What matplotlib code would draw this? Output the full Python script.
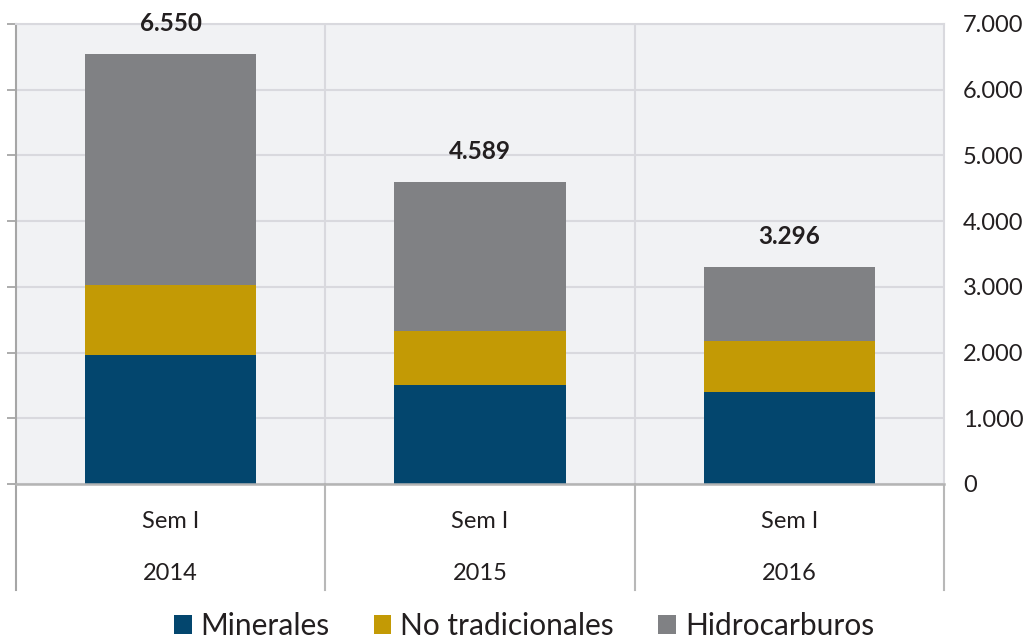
import matplotlib
matplotlib.use("Agg")
import matplotlib.pyplot as plt
from matplotlib.lines import Line2D
from matplotlib.patches import Patch
from matplotlib.ticker import FuncFormatter
import numpy as np

plt.rcParams['font.family'] = ['Lato', 'DejaVu Sans']

periods = ["Sem I", "Sem I", "Sem I"]
years = ["2014", "2015", "2016"]
series_names = ["Minerales", "No tradicionales", "Hidrocarburos"]
minerales = [1960, 1507, 1400]
no_tradicionales = [1070, 821, 776]
hidrocarburos = [3520, 2261, 1120]
totals = [6550, 4589, 3296]
colors = ["#03466e", "#c39a05", "#808184"]

fig = plt.figure(figsize=(10.29, 6.4), dpi=100)
ax = fig.add_axes([16/1029, 1-484/640, (944-16)/1029, 460/640])
ax.set_facecolor("#f1f2f4")

x = np.arange(len(years))
bw = 0.553
bottom = np.zeros(len(years))
for vals, c, name in zip([minerales, no_tradicionales, hidrocarburos], colors, series_names):
    ax.bar(x, vals, bw, bottom=bottom, color=c, label=name, zorder=3)
    bottom += np.array(vals)

def fmt(v):
    return f"{int(v):,}".replace(",", ".")

for xi, t in zip(x, totals):
    ax.annotate(fmt(t), (xi, t), xytext=(0, 22), textcoords="offset points",
                ha="center", va="center", fontsize=17.5, fontweight="bold",
                color="#231f20", zorder=5, annotation_clip=False)

ax.set_xlim(-0.5, len(years) - 0.5)
ax.set_ylim(0, 7000)
ax.set_yticks(np.arange(0, 7001, 1000))
ax.yaxis.set_major_formatter(FuncFormatter(lambda v, p: fmt(v)))
ax.tick_params(axis="y", left=True, right=False, labelleft=False, labelright=True,
               length=6.5, width=1.3, color="#a6a6a6", labelsize=17, pad=7,
               labelcolor="#231f20")
ax.set_xticks([])
ax.grid(axis="y", color="#d9d9de", lw=1.5, zorder=0)
for b in [0.5, 1.5]:
    ax.axvline(b, color="#d9d9de", lw=1.5, zorder=0)

for s in ["top", "right"]:
    ax.spines[s].set_color("#d9d9de")
    ax.spines[s].set_linewidth(1.5)
ax.spines["left"].set_color("#a6a6a6")
ax.spines["left"].set_linewidth(1.5)
ax.spines["bottom"].set_color("#b4b4b4")
ax.spines["bottom"].set_linewidth(1.8)
ax.spines["bottom"].set_zorder(4)

low = -106/460
trans = ax.get_xaxis_transform()
for b in [-0.5, 0.5, 1.5, 2.5]:
    col = "#a6a6a6" if b == -0.5 else "#b8b8b8"
    ax.add_line(Line2D([b, b], [0, low], transform=trans, color=col, lw=1.5, clip_on=False))

for xi, p, yr in zip(x, periods, years):
    ax.text(xi, -37/460, p, transform=trans, ha="center", va="center", fontsize=17, color="#231f20")
    ax.text(xi, -90/460, yr, transform=trans, ha="center", va="center", fontsize=17, color="#231f20")

handles = [Patch(facecolor=c, edgecolor="none") for c in colors]
fig.legend(handles, series_names, loc="center", bbox_to_anchor=(0.509, 1-626/640),
           ncol=3, frameon=False, fontsize=21.5, handlelength=0.6, handleheight=0.6,
           handletextpad=0.3, columnspacing=1.47, labelcolor="#231f20")

fig.savefig("out.png", dpi=100)
